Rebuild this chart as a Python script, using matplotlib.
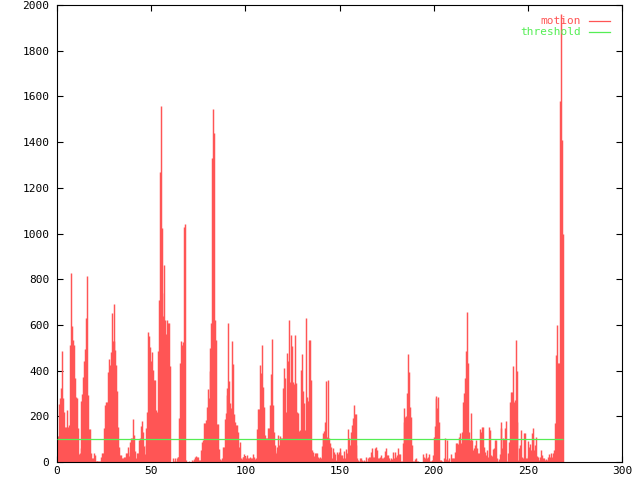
import numpy as np
import matplotlib
matplotlib.use("Agg")
import matplotlib.pyplot as plt

# motion samples, one every half unit
motion = [
    115, 115, 253, 282, 323, 486, 282, 220, 155, 137,
    155, 228, 155, 160, 512, 828, 593, 534, 512, 366,
    286, 279, 150, 34, 38, 60, 267, 296, 374, 440,
    495, 632, 812, 293, 145, 145, 38, 16, 16, 38,
    30, 4, 4, 4, 4, 4, 4, 23, 38, 38,
    150, 250, 264, 264, 396, 450, 425, 483, 651, 530,
    530, 690, 490, 425, 311, 155, 67, 31, 31, 19,
    19, 23, 23, 38, 38, 67, 28, 45, 89, 104,
    104, 186, 118, 48, 19, 38, 38, 96, 107, 158,
    181, 133, 72, 35, 74, 150, 220, 571, 553, 505,
    442, 480, 403, 359, 359, 228, 220, 486, 710, 1270,
    1558, 1024, 740, 637, 862, 622, 560, 622, 607, 607,
    418, 0, 0, 16, 5, 16, 5, 19, 23, 23,
    194, 432, 530, 512, 527, 1030, 1040, 10, 0, 0,
    5, 0, 0, 10, 5, 15, 8, 20, 28, 23,
    23, 9, 9, 53, 89, 96, 169, 169, 184, 242,
    320, 279, 399, 500, 607, 1330, 1545, 1440, 622, 534,
    165, 165, 57, 13, 9, 16, 67, 67, 188, 216,
    293, 326, 607, 355, 257, 235, 530, 428, 209, 177,
    162, 162, 133, 67, 89, 16, 13, 23, 23, 34,
    28, 16, 31, 16, 16, 22, 16, 16, 34, 23,
    13, 16, 145, 232, 220, 232, 425, 388, 510, 330,
    242, 118, 107, 104, 150, 150, 250, 384, 539, 250,
    133, 74, 50, 38, 67, 118, 74, 115, 104, 104,
    326, 413, 369, 220, 479, 442, 622, 352, 345, 556,
    508, 352, 340, 556, 345, 220, 213, 136, 140, 403,
    472, 311, 257, 140, 632, 286, 267, 267, 534, 534,
    359, 53, 42, 28, 38, 38, 38, 23, 19, 23,
    19, 70, 104, 126, 136, 177, 355, 111, 359, 104,
    82, 67, 16, 63, 45, 35, 9, 45, 34, 45,
    60, 45, 31, 31, 16, 48, 16, 57, 38, 145,
    107, 74, 133, 162, 191, 250, 209, 209, 74, 16,
    9, 4, 19, 16, 9, 4, 9, 4, 23, 4,
    16, 23, 23, 45, 63, 31, 23, 23, 63, 67,
    53, 16, 19, 23, 31, 16, 16, 23, 48, 63,
    31, 31, 19, 16, 9, 19, 13, 45, 16, 42,
    23, 31, 63, 35, 35, 4, 4, 82, 177, 238,
    199, 203, 301, 472, 393, 242, 199, 74, 4, 6,
    13, 16, 4, 4, 1, 1, 1, 1, 1, 34,
    23, 19, 38, 19, 23, 34, 4, 4, 9, 31,
    111, 159, 279, 291, 235, 286, 177, 9, 9, 4,
    1, 19, 107, 13, 96, 9, 19, 1, 34, 16,
    4, 19, 19, 45, 82, 82, 78, 111, 126, 82,
    133, 261, 301, 366, 486, 658, 432, 133, 96, 96,
    213, 96, 53, 63, 74, 96, 63, 38, 38, 145,
    133, 155, 155, 67, 28, 45, 31, 53, 23, 155,
    140, 31, 28, 57, 63, 96, 96, 16, 4, 13,
    34, 147, 174, 63, 104, 101, 147, 181, 4, 38,
    89, 261, 308, 308, 418, 264, 272, 534, 399, 177,
    9, 60, 74, 140, 23, 16, 126, 126, 19, 19,
    92, 67, 78, 53, 126, 147, 104, 53, 74, 111,
    28, 23, 9, 23, 53, 31, 16, 16, 9, 13,
    9, 23, 34, 16, 23, 38, 23, 38, 53, 169,
    469, 600, 432, 432, 1580, 1960, 1410, 1000,
]
step = 0.5
threshold = 100
x_ticks = [0, 50, 100, 150, 200, 250, 300]
y_ticks = list(range(0, 2001, 200))

red = '#ff5555'
green = '#55ee55'
mono = 'DejaVu Sans Mono'

t = np.arange(len(motion)) * step

fig = plt.figure(figsize=(6.4, 4.8), dpi=100)
ax = fig.add_axes([57 / 640, 18 / 480, 565 / 640, 457 / 480])

ax.vlines(t, 0, motion, colors=red, linewidth=1.05)
ax.hlines(threshold, t[0], t[-1], colors=green, linewidth=0.9, zorder=3)

ax.set_xlim(x_ticks[0], x_ticks[-1])
ax.set_ylim(y_ticks[0], y_ticks[-1])
ax.set_xticks(x_ticks)
ax.set_yticks(y_ticks)
ax.tick_params(direction='in', length=4.3, width=0.8, top=True, right=True,
               labelsize=8)
ax.tick_params(axis='x', pad=3.2)
ax.tick_params(axis='y', pad=5.5)
for lab in ax.get_xticklabels() + ax.get_yticklabels():
    lab.set_family(mono)
for s in ax.spines.values():
    s.set_linewidth(0.8)

# key, gnuplot style: coloured label then a short line sample
ax.text(0.927, 0.965, 'motion', color=red, family=mono, fontsize=8,
        ha='right', va='center', transform=ax.transAxes)
ax.plot([0.941, 0.979], [0.965, 0.965], color=red, linewidth=0.9,
        transform=ax.transAxes)
ax.text(0.927, 0.941, 'threshold', color=green, family=mono, fontsize=8,
        ha='right', va='center', transform=ax.transAxes)
ax.plot([0.941, 0.979], [0.941, 0.941], color=green, linewidth=0.9,
        transform=ax.transAxes)

fig.savefig('out.png', dpi=100)
